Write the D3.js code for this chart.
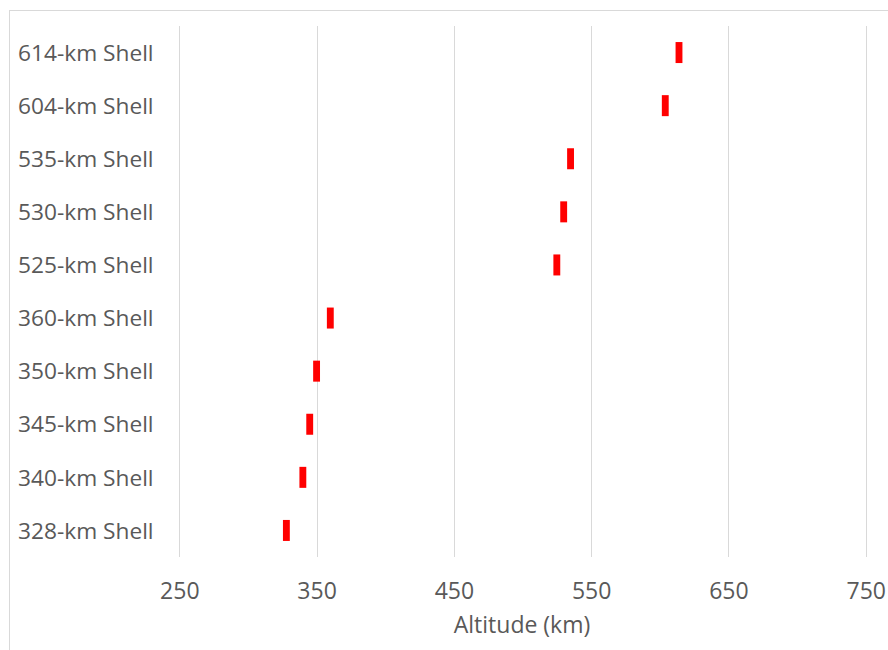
<!DOCTYPE html>
<html>
<head>
<meta charset="utf-8">
<script src="https://cdn.jsdelivr.net/npm/d3@7"></script>
<style>
  html, body { margin: 0; padding: 0; background: #fff; }
  svg { display: block; font-family: "Open Sans", "Noto Sans", sans-serif; }
</style>
</head>
<body>
<svg id="chart" width="888" height="650"></svg>
<script>
// Orbital shells, top to bottom
const shells = ["614-km Shell", "604-km Shell", "535-km Shell", "530-km Shell", "525-km Shell",
                "360-km Shell", "350-km Shell", "345-km Shell", "340-km Shell", "328-km Shell"];
const altitudes = [614, 604, 535, 530, 525, 360, 350, 345, 340, 328];
const altitudeTicks = [250, 350, 450, 550, 650, 750];
const axisTitle = "Altitude (km)";

const svg = d3.select("#chart");
const textColor = "#595959";
const gridColor = "#d9d9d9";

// Outer frame
svg.append("rect")
  .attr("x", 9.5).attr("y", 10.5)
  .attr("width", 900).attr("height", 700)
  .attr("fill", "none").attr("stroke", gridColor).attr("stroke-width", 1);

const x = d3.scaleLinear().domain([250, 750]).range([179.3, 865.7]);
const y = d3.scaleBand().domain(shells).range([26, 557]).padding(0);

// Vertical gridlines
svg.append("g").selectAll("line")
  .data(altitudeTicks)
  .join("line")
  .attr("x1", d => Math.round(x(d)) + 0.5).attr("x2", d => Math.round(x(d)) + 0.5)
  .attr("y1", 26).attr("y2", 557)
  .attr("stroke", gridColor).attr("stroke-width", 1);

// Bottom axis labels (no domain line or tick marks)
const xAxis = d3.axisBottom(x).tickValues(altitudeTicks).tickSize(0).tickPadding(0);
const gx = svg.append("g").attr("transform", "translate(0,581)").call(xAxis);
gx.select(".domain").remove();
gx.selectAll("text")
  .attr("dy", null).attr("y", 18)
  .attr("fill", textColor)
  .style("font-family", '"Open Sans", "Noto Sans", sans-serif')
  .style("font-size", "23px");

// Category labels, left aligned
svg.append("g").selectAll("text")
  .data(shells)
  .join("text")
  .attr("x", 18)
  .attr("y", d => y(d) + y.bandwidth() / 2)
  .attr("dy", "0.36em")
  .attr("fill", textColor)
  .style("font-size", "22.7px")
  .text(d => d);

// Altitude markers: narrow bars centred on each shell's altitude
const halfWidth = 2.5;
const barHeight = 21;
svg.append("g").selectAll("rect")
  .data(altitudes.map((v, i) => ({ shell: shells[i], value: v })))
  .join("rect")
  .attr("x", d => x(d.value - halfWidth))
  .attr("width", d => x(d.value + halfWidth) - x(d.value - halfWidth))
  .attr("y", d => y(d.shell) + y.bandwidth() / 2 - barHeight / 2)
  .attr("height", barHeight)
  .attr("fill", "#ff0000");

// Axis title
svg.append("text")
  .attr("x", 522)
  .attr("y", 633)
  .attr("text-anchor", "middle")
  .attr("fill", textColor)
  .style("font-size", "23px")
  .text(axisTitle);
</script>
</body>
</html>
